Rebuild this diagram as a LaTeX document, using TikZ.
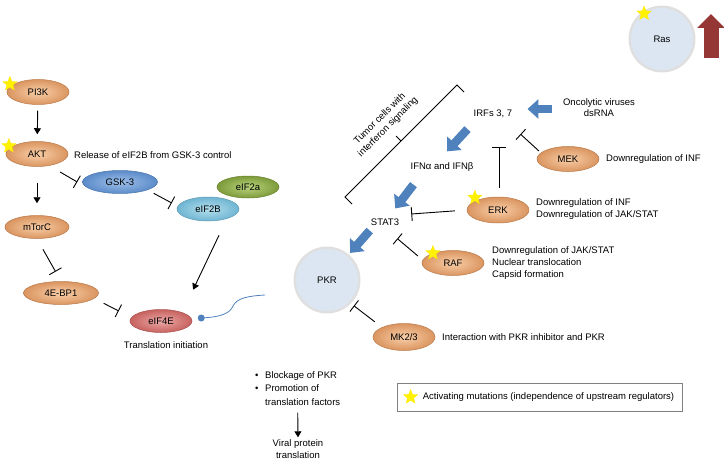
\documentclass[tikz,border=0pt]{standalone}
\usepackage{fontspec}
\setmainfont{Liberation Sans}
\usetikzlibrary{shapes.geometric,arrows.meta,shadows}

\definecolor{peachlight}{HTML}{F9CFA9}
\definecolor{peachdark}{HTML}{DA9560}
\definecolor{peachline}{HTML}{B97A4A}
\definecolor{gsklight}{HTML}{9EBFE8}
\definecolor{gskdark}{HTML}{5B8BC9}
\definecolor{cyanlight}{HTML}{B5E0EE}
\definecolor{cyandark}{HTML}{6FB5D2}
\definecolor{greenlight}{HTML}{B8D47E}
\definecolor{greendark}{HTML}{7D9B3A}
\definecolor{roselight}{HTML}{EBA9A7}
\definecolor{rosedark}{HTML}{C7625F}
\definecolor{ballfill}{HTML}{DCE6F2}
\definecolor{arrowblue}{HTML}{4F81BD}
\definecolor{rasred}{HTML}{953735}

\begin{document}
\begin{tikzpicture}[x=1pt,y=-1pt,
	every node/.style={font=\fontsize{9.5}{12}\selectfont, inner sep=2pt},
	protein/.style={ellipse, minimum width=62pt, minimum height=25pt, inner sep=0pt, line width=0.5pt},
	kinase/.style={protein, draw=peachline, inner color=peachlight, outer color=peachdark},
	pkrball/.style={circle, minimum size=62pt, inner sep=0pt, fill=ballfill,
		drop shadow={shadow xshift=0pt, shadow yshift=0pt, shadow scale=1.08, opacity=0.25}},
	mutstar/.style={star, star points=5, star point ratio=2.3, fill=yellow, draw=yellow!90!orange, line width=0.3pt, minimum size=15pt, inner sep=0pt},
	act/.style={-{Triangle[length=6pt,width=7pt]}, line width=0.9pt},
	inh/.style={-{Bar[width=14pt]}, line width=0.9pt},
	blk/.style={draw=arrowblue, line width=8.5pt, -{Triangle[length=11pt,width=19pt]}},
	mrna/.style={arrowblue, line width=0.8pt}]
	\useasboundingbox (0,0) rectangle (724,460);
	
	% left: PI3K / AKT branch
	\node[kinase] (pi3k) at (38,92) {PI3K};
	\node[kinase] (akt) at (37,154) {AKT};
	\node[kinase, minimum width=64pt, minimum height=23pt] (mtorc) at (37,227) {mTorC};
	\node[kinase, minimum width=75pt, minimum height=23pt] (bp1) at (61,293) {4E-BP1};
	\node[protein, minimum width=75pt, minimum height=23pt, draw=gskdark!85!black, inner color=gsklight, outer color=gskdark] (gsk) at (120,182) {GSK-3};
	\node[protein, minimum height=22pt, draw=greendark!85!black, inner color=greenlight, outer color=greendark] (eif2a) at (248,187) {eIF2a};
	\node[protein, minimum height=24pt, draw=cyandark!85!black, inner color=cyanlight, outer color=cyandark] (eif2b) at (208,209) {eIF2B};
	\node[protein, minimum height=23pt, draw=rosedark!85!black, inner color=roselight, outer color=rosedark] (eif4e) at (161,321) {eIF4E};
	\node[anchor=west] (release) at (72,155) {Release of eIF2B from GSK-3 control};
	\node (transinit) at (166,345) {Translation initiation};
	
	\node[mutstar] (starpi3k) at ([shift={(-6,1)}]pi3k.north west) {};
	\node[mutstar] (starakt) at ([shift={(-6,1)}]akt.north west) {};
	
	\draw[act, shorten <=6pt, shorten >=7pt] (pi3k) -- (akt);
	\draw[act, shorten <=16pt, shorten >=12pt] (akt) -- (mtorc);
	\draw[inh] ([shift={(1,9)}]akt.south east) -- ([shift={(-5,0)}]gsk.west);
	\draw[inh] ([shift={(7,3)}]gsk.south east) -- ([shift={(-5,-6)}]eif2b.west);
	\draw[act] ([shift={(11,14)}]eif2b.south) -- ([shift={(10,-23)}]eif4e.north east);
	\draw[inh, shorten <=12pt, shorten >=11pt] (mtorc.south) -- (bp1.north);
	\draw[inh] ([shift={(16,2)}]bp1.south east) -- ([shift={(-11,-10)}]eif4e.west);
	
	% mRNA with cap
	\coordinate (cap) at ([shift={(9,-3)}]eif4e.east);
	\fill[arrowblue] (cap) circle (3.5);
	\draw[mrna] (cap) .. controls (222,317) and (230,313) .. (233,306) .. controls (237,298) and (248,296) .. (265,295);
	
	% right: Ras
	\node[pkrball] (ras) at (662,39) {Ras};
	\node[mutstar] (starras) at (ras.125) {};
	\draw[rasred, line width=15pt, -{Triangle[length=14pt,width=27pt]}] (711,58) -- (711,14);
	
	% interferon signalling
	\node (irf) at (493,114) {IRFs 3, 7};
	\node[align=center, font=\fontsize{9.5}{10.8}\selectfont] (onco) at (599,108) {Oncolytic viruses\\dsRNA};
	\node (ifn) at (442,167) {IFNα and IFNβ};
	\node (stat) at (385,222) {STAT3};
	\node[pkrball] (pkr) at (327,280) {PKR};
	
	\node[rotate=45, align=center, font=\fontsize{9.5}{11.5}\selectfont] (tumor) at (384,123) {Tumor cells with\\interferon signaling};
	\draw[line width=0.8pt] (352,204) -- (345,197) -- (457,85) -- (464,92);
	\draw[line width=0.8pt] (401,141) -- (396,136);
	
	\draw[blk] ([shift={(-9,1)}]onco.west) -- ([shift={(13,-5)}]irf.east);
	\draw[blk] ([shift={(-4,9)}]irf.south west) -- ([shift={(5,-9)}]ifn.north);
	\draw[blk] ([shift={(5,11)}]ifn.south west) -- ([shift={(-6,-8)}]stat.north east);
	\draw[blk] ([shift={(1,3)}]stat.south west) -- ([shift={(1,-5)}]pkr.north east);
	
	% MAPK branch
	\node[kinase] (mek) at (568,159) {MEK};
	\node[kinase, minimum height=26pt] (erk) at (498,210) {ERK};
	\node[kinase] (raf) at (453,263) {RAF};
	\node[kinase, minimum height=27pt] (mk) at (404,337) {MK2/3};
	\node[mutstar] (starerk) at ([shift={(-1,-3)}]erk.north west) {};
	\node[mutstar] (starraf) at ([shift={(2,-1)}]raf.north west) {};
	
	\node[anchor=west] (mektxt) at (604,159) {Downregulation of INF};
	\node[anchor=west, align=left] (erktxt) at (534,209.5) {Downregulation of INF\\Downregulation of JAK/STAT};
	\node[anchor=west, align=left] (raftxt) at (490,263.5) {Downregulation of JAK/STAT\\Nuclear translocation\\Capsid formation};
	\node[anchor=west] (mktxt) at (440,337) {Interaction with PKR inhibitor and PKR};
	
	\draw[inh] ([shift={(-7,1)}]mek.north west) -- ([shift={(6,14)}]irf.south east);
	\draw[inh] ([shift={(1,-9)}]erk.north) -- ([shift={(6,27)}]irf.south);
	\draw[inh, shorten <=12pt] (erk.west) -- ([shift={(10,-8)}]stat.east);
	\draw[inh] ([shift={(-13,2)}]raf.north west) -- ([shift={(-4,11)}]stat.south east);
	\draw[inh, shorten <=9pt, shorten >=6pt] (mk.north west) -- (pkr.south east);
	
	% outcome and legend
	\node[anchor=west, align=left, font=\fontsize{9.5}{13.5}\selectfont] (bullets) at (253,388.5) {\makebox[10pt][l]{\textbullet}Blockage of PKR\\\makebox[10pt][l]{\textbullet}Promotion of\\\makebox[10pt][l]{}translation factors};
	\node[align=center] (viral) at (298,449) {Viral protein\\translation};
	\draw[act, shorten <=5pt] (bullets.south) -- (viral.north);
	
	\node[draw=black!50, line width=0.8pt, minimum width=285pt, minimum height=28pt] (legend) at (539.5,397) {};
	\node[mutstar] (legstar) at ([shift={(14,0)}]legend.west) {};
	\node[anchor=west] (legtxt) at ([shift={(24,0)}]legend.west) {Activating mutations (independence of upstream regulators)};
\end{tikzpicture}
\end{document}
